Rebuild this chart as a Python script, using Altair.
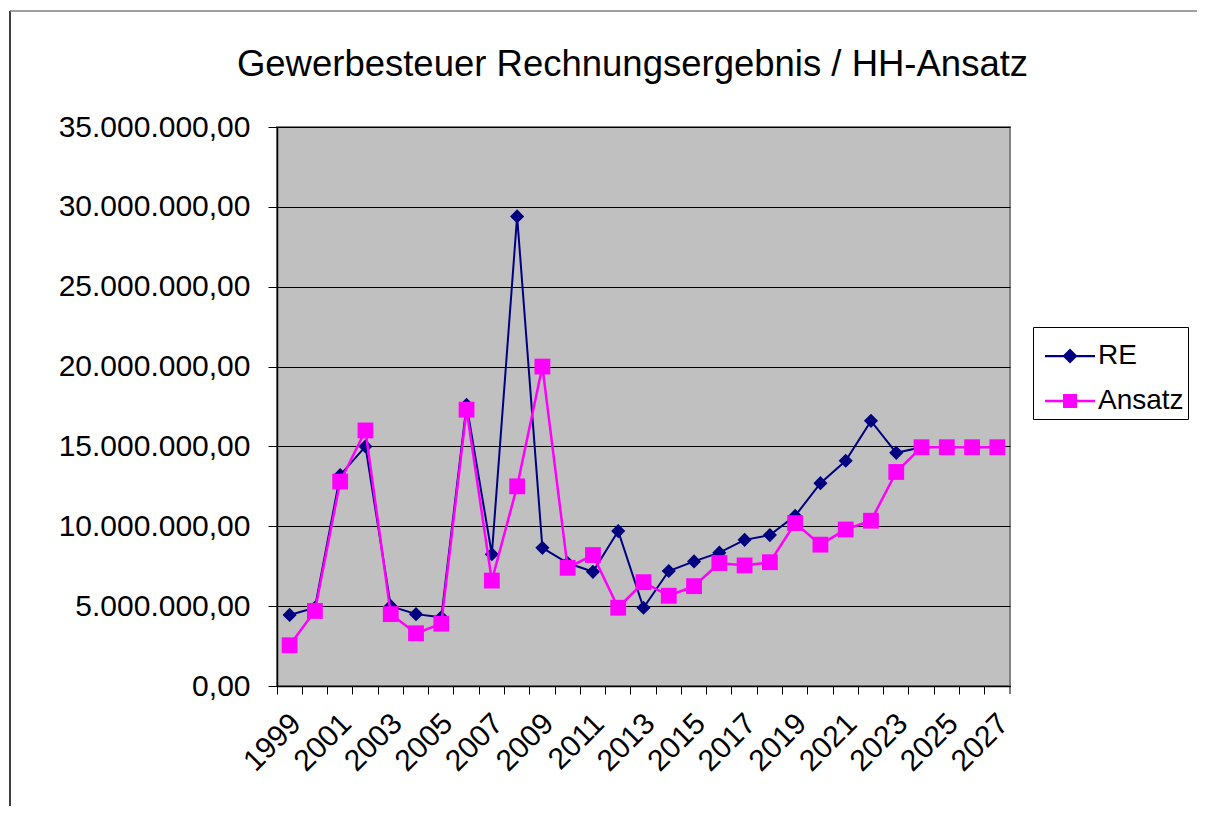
import altair as alt
import pandas as pd

years = list(range(1999, 2028))
re_values = [4.45e6, 4.9e6, 13.2e6, 15.0e6, 5.0e6, 4.5e6, 4.3e6, 17.6e6, 8.25e6, 29.4e6,
             8.65e6, 7.7e6, 7.15e6, 9.7e6, 4.9e6, 7.2e6, 7.8e6, 8.35e6, 9.15e6, 9.45e6,
             10.65e6, 12.7e6, 14.1e6, 16.6e6, 14.6e6, 14.95e6, None, None, None]
ansatz_values = [2.55e6, 4.7e6, 12.8e6, 16.0e6, 4.5e6, 3.3e6, 3.9e6, 17.3e6, 6.6e6, 12.5e6,
                 20.0e6, 7.4e6, 8.2e6, 4.9e6, 6.5e6, 5.65e6, 6.25e6, 7.7e6, 7.55e6, 7.75e6,
                 10.2e6, 8.85e6, 9.8e6, 10.35e6, 13.4e6, 14.95e6, 14.95e6, 14.95e6, 14.95e6]
series_names = ["RE", "Ansatz"]
series_colors = ["#000080", "#FF00FF"]
y_ticks = [0, 5e6, 10e6, 15e6, 20e6, 25e6, 30e6, 35e6]
title_text = "Gewerbesteuer Rechnungsergebnis / HH-Ansatz"

rows = []
for yr, r, a in zip(years, re_values, ansatz_values):
    if r is not None:
        rows.append({"year": yr, "series": "RE", "value": r})
    if a is not None:
        rows.append({"year": yr, "series": "Ansatz", "value": a})
df = pd.DataFrame(rows)

FONT = "Liberation Sans"
W, H = 733, 559

x_enc = alt.X(
    "year:O",
    scale=alt.Scale(type="band", paddingInner=0, paddingOuter=0, domain=years),
    axis=alt.Axis(
        title=None, grid=False, bandPosition=0, labelOffset=-4,
        labelAngle=315, labelAlign="right", labelBaseline="top",
        labelExpr="datum.value % 2 == 1 ? '' + datum.value : ''",
        labelOverlap=False, labelFontSize=30, labelFont=FONT, labelColor="black",
        labelPadding=14, tickSize=8, tickColor="black", tickWidth=1,
        domainColor="black", domainWidth=1.5,
    ),
)
y_enc = alt.Y(
    "value:Q",
    scale=alt.Scale(domain=[0, 35e6], nice=False, zero=True),
    axis=alt.Axis(
        title=None, values=y_ticks,
        labelExpr="replace(format(datum.value, ',d'), /,/g, '.') + ',00'",
        labelFontSize=30, labelFont=FONT, labelColor="black", labelPadding=18,
        labelLimit=400,
        tickSize=9, tickColor="black", tickWidth=1,
        domainColor="black", domainWidth=1.5,
        gridColor="black", gridWidth=1,
    ),
)

base = alt.Chart(df).encode(x=x_enc, y=y_enc)

re_line = base.transform_filter("datum.series == 'RE'").mark_line(
    color=series_colors[0], strokeWidth=2)
re_pts = base.transform_filter("datum.series == 'RE'").mark_point(
    shape="diamond", filled=True, size=200, color=series_colors[0], opacity=1)
an_line = base.transform_filter("datum.series == 'Ansatz'").mark_line(
    color=series_colors[1], strokeWidth=2.5)
an_pts = base.transform_filter("datum.series == 'Ansatz'").mark_point(
    shape="square", filled=True, size=250, color=series_colors[1], opacity=1)

path_re = "M-1,-0.045L1,-0.045L1,0.045L-1,0.045Z M0,-0.3L0.3,0L0,0.3L-0.3,0Z"
path_an = "M-1,-0.05L1,-0.05L1,0.05L-1,0.05Z M-0.28,-0.28L0.28,-0.28L0.28,0.28L-0.28,0.28Z"

leg = dict(
    orient="none", legendX=756, legendY=200, title=None,
    labelFontSize=28, labelFont=FONT, labelColor="black", labelOffset=3,
    padding=4, fillColor="white", strokeColor="black",
    symbolSize=2500, symbolOffset=8, symbolOpacity=1, symbolStrokeWidth=0, rowPadding=6,
)
legend_layer = base.mark_point(filled=True, opacity=0).encode(
    color=alt.Color("series:N", scale=alt.Scale(domain=series_names, range=series_colors),
                    legend=alt.Legend(**leg)),
    shape=alt.Shape("series:N", scale=alt.Scale(domain=series_names, range=[path_re, path_an]),
                    legend=alt.Legend(**leg)),
)

deco = pd.DataFrame({"k": [0]})
end_tick = alt.Chart(deco).mark_rule(color="black", strokeWidth=1).encode(
    x=alt.value(W), y=alt.value(H), y2=alt.value(H + 8))
left_border = alt.Chart(deco).mark_rule(color="black", strokeWidth=1.5).encode(
    x=alt.value(-267), y=alt.value(-116), y2=alt.value(H + 200))
top_border = alt.Chart(deco).mark_rule(color="#808080", strokeWidth=1.5).encode(
    x=alt.value(-267), x2=alt.value(W + 200), y=alt.value(-116))

chart = alt.layer(
    left_border, top_border, re_line, re_pts, an_line, an_pts, legend_layer, end_tick
).properties(
    width=W, height=H,
    background="white",
    autosize=alt.AutoSizeParams(type="none"),
    padding={"left": 269, "top": 119, "right": 187, "bottom": 120},
    title=alt.TitleParams(
        text=title_text, fontSize=36.5, font=FONT, fontWeight="normal", color="black",
        anchor="middle", frame="group", offset=52, dy=154, dx=-11, baseline="alphabetic",
    ),
).configure_view(
    fill="#C0C0C0", stroke="#808080", strokeWidth=2,
)

chart.save("out.html", embed_options={"renderer": "svg", "actions": False})
